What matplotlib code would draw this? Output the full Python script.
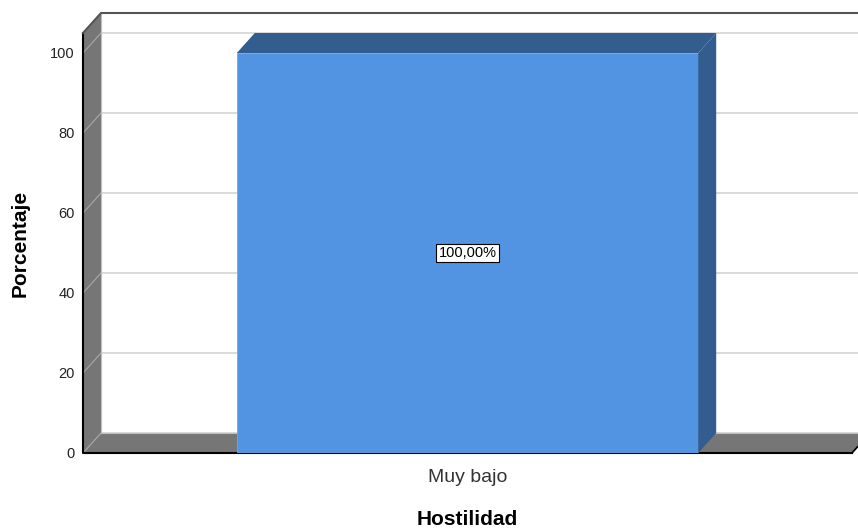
import matplotlib
matplotlib.use('Agg')
import matplotlib.pyplot as plt
from matplotlib.patches import Polygon

plt.rcParams['font.family'] = ['Liberation Sans', 'DejaVu Sans']

# data
categories = ['Muy bajo']
percentages = [100.0]
bar_labels = ['100,00%']
y_ticks = [0, 20, 40, 60, 80, 100]

W, H = 858, 531
fig = plt.figure(figsize=(W / 100, H / 100), dpi=100)
ax = fig.add_axes([83 / W, 78 / H, 769 / W, 420 / H])
ax.set_xlim(-0.5, len(categories) - 0.5)
ax.set_ylim(0, 105)
ax.patch.set_visible(False)
for s in ax.spines.values():
    s.set_visible(False)

# depth of the fake 3D box, converted from pixels into data units
x0, x1 = ax.get_xlim()
y0, y1 = ax.get_ylim()
DX = 18 * (x1 - x0) / 769
DY = 20 * (y1 - y0) / 420

wall_gray = '#767676'
bar_front = '#5294e2'
bar_dark = '#335c8f'


def poly(pts, fc, z=1, ec='none', lw=0):
    ax.add_patch(Polygon(pts, closed=True, fc=fc, ec=ec, lw=lw,
                         clip_on=False, zorder=z))


# back wall and grid
poly([(x0 + DX, y0 + DY), (x1 + DX, y0 + DY), (x1 + DX, y1 + DY), (x0 + DX, y1 + DY)], 'white', z=0)
for t in y_ticks:
    ax.plot([x0 + DX, x1 + DX], [t + DY, t + DY], color='#d4d4d4', lw=1.2, zorder=0.5, clip_on=False)

# left wall and floor
poly([(x0, y0), (x0, y1), (x0 + DX, y1 + DY), (x0 + DX, y0 + DY)], wall_gray, z=1)
poly([(x0, y0), (x1, y0), (x1 + DX, y0 + DY), (x0 + DX, y0 + DY)], wall_gray, z=1)
for t in y_ticks:
    ax.plot([x0, x0 + DX], [t, t + DY], color='#a8a8a8', lw=0.8, zorder=1.5, clip_on=False)
ax.plot([x0 + DX, x0 + DX], [y0 + DY, y1 + DY], color='#bdbdbd', lw=0.8, zorder=1.5, clip_on=False)
ax.plot([x0 + DX, x1 + DX], [y0 + DY, y0 + DY], color='#bdbdbd', lw=0.8, zorder=1.5, clip_on=False)

# outline of the box
ax.plot([x0, x0, x1], [y1, y0, y0], color='black', lw=1.5, zorder=2, clip_on=False)
ax.plot([x0, x0 + DX, x1 + DX], [y1, y1 + DY, y1 + DY], color='#555555', lw=1.5, zorder=2, clip_on=False)
ax.plot([x1, x1 + DX], [y0, y0 + DY], color='black', lw=1.2, zorder=2, clip_on=False)

# bars
bw = 0.6
for i, (v, lab) in enumerate(zip(percentages, bar_labels)):
    ax.bar(i, v, width=bw, color=bar_front, edgecolor='#6fa6e6', lw=0.6, zorder=3)
    l, r = i - bw / 2, i + bw / 2
    poly([(l, v), (r, v), (r + DX, v + DY), (l + DX, v + DY)], bar_dark, z=3)
    poly([(r, 0), (r + DX, DY), (r + DX, v + DY), (r, v)], bar_dark, z=3)
    ax.text(i, v / 2, lab, ha='center', va='center', fontsize=10.5, zorder=5,
            bbox=dict(boxstyle='square,pad=0.15', fc='white', ec='black', lw=0.8))

ax.set_xticks(range(len(categories)))
ax.set_xticklabels(categories, fontsize=14, color='#333333')
ax.set_yticks(y_ticks)
ax.set_yticklabels([str(t) for t in y_ticks], fontsize=10.5, color='#222222')
ax.tick_params(axis='y', length=0, pad=6)
ax.tick_params(axis='x', length=0, pad=11.5)

ax.set_ylabel('Porcentaje', fontsize=15, fontweight='bold')
ax.yaxis.set_label_coords(-0.069, 0.5)
ax.set_xlabel('Hostilidad', fontsize=15, fontweight='bold')
ax.xaxis.set_label_coords(0.5, -0.136)

fig.savefig('out.png', dpi=100)
